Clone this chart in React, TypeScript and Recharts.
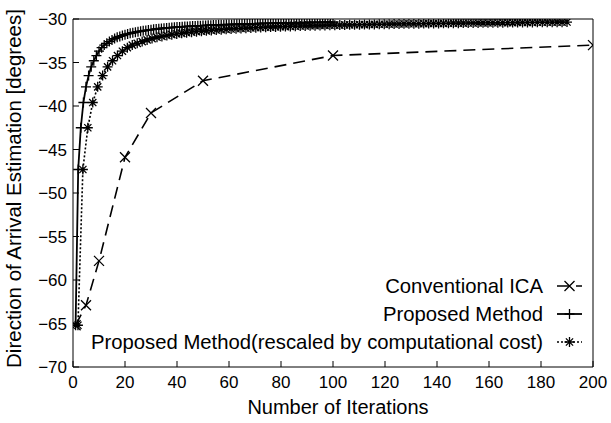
import React from 'react';
import { LineChart, Line, XAxis, YAxis, Legend } from 'recharts';

// Conventional ICA: estimated direction of arrival at selected iteration counts
const conventionalIterations = [1, 5, 10, 20, 30, 50, 100, 200];
const conventionalDoa = [-65.2, -62.9, -57.8, -45.9, -40.8, -37.1, -34.2, -33.0];

// Proposed method: estimate after each iteration (1..100)
const proposedDoa = [
  -65.2, -47.3, -42.5, -39.6, -37.8, -36.5, -35.5, -34.8, -34.2, -33.7,
  -33.3, -33.0, -32.8, -32.6, -32.4, -32.25, -32.1, -32.0, -31.9, -31.8,
  -31.72, -31.65, -31.58, -31.52, -31.46, -31.41, -31.36, -31.31, -31.27, -31.23,
  -31.19, -31.15, -31.12, -31.09, -31.06, -31.03, -31.0, -30.98, -30.95, -30.93,
  -30.91, -30.89, -30.87, -30.85, -30.83, -30.81, -30.8, -30.78, -30.77, -30.75,
  -30.74, -30.72, -30.71, -30.7, -30.68, -30.67, -30.66, -30.65, -30.64, -30.63,
  -30.62, -30.61, -30.6, -30.59, -30.58, -30.57, -30.56, -30.55, -30.55, -30.54,
  -30.53, -30.52, -30.51, -30.51, -30.5, -30.49, -30.48, -30.48, -30.47, -30.46,
  -30.46, -30.45, -30.44, -30.44, -30.43, -30.43, -30.42, -30.41, -30.41, -30.4,
  -30.4, -30.39, -30.39, -30.38, -30.38, -30.37, -30.37, -30.36, -30.36, -30.35,
];

// cost of one proposed iteration measured in conventional iterations
const costRatio = 1.9;

const seriesNames = [
  'Conventional ICA',
  'Proposed Method',
  'Proposed Method(rescaled by computational cost)',
];

const xTicks = [0, 20, 40, 60, 80, 100, 120, 140, 160, 180, 200];
const yTicks = [-70, -65, -60, -55, -50, -45, -40, -35, -30];

const conventionalData = conventionalIterations.map((x, i) => ({ x, y: conventionalDoa[i] }));
const proposedData = proposedDoa.map((y, i) => ({ x: i + 1, y }));
const rescaledData = proposedDoa.map((y, i) => ({ x: (i + 1) * costRatio, y }));

const W = 611;
const H = 423;
const FONT = '"Liberation Sans", Arial, Helvetica, sans-serif';
const INK = '#000';

type MarkProps = { cx: number; cy: number };

const CrossMark = ({ cx, cy }: MarkProps) => {
  const r = 5;
  return (
    <path
      d={`M${cx - r},${cy - r}L${cx + r},${cy + r}M${cx - r},${cy + r}L${cx + r},${cy - r}`}
      stroke={INK}
      strokeWidth={1.3}
      fill="none"
    />
  );
};

const PlusMark = ({ cx, cy }: MarkProps) => {
  const r = 5;
  return (
    <path
      d={`M${cx - r},${cy}L${cx + r},${cy}M${cx},${cy - r}L${cx},${cy + r}`}
      stroke={INK}
      strokeWidth={1.3}
      fill="none"
    />
  );
};

const StarMark = ({ cx, cy }: MarkProps) => {
  const r = 5;
  const d = 3.6;
  return (
    <path
      d={`M${cx - r},${cy}L${cx + r},${cy}M${cx},${cy - r}L${cx},${cy + r}M${cx - d},${cy - d}L${cx + d},${cy + d}M${cx - d},${cy + d}L${cx + d},${cy - d}`}
      stroke={INK}
      strokeWidth={1.3}
      fill="none"
    />
  );
};

const dotOf = (Mark: React.FC<MarkProps>) => (p: any) =>
  p.cx == null || p.cy == null ? <g key={`e-${p.index}`} /> : <Mark key={`m-${p.index}`} cx={p.cx} cy={p.cy} />;

const formatTick = (v: number) => String(v).replace('-', '\u2212');

const legendStyles = [
  { dash: '12 7', width: 1.6, Mark: CrossMark },
  { dash: undefined, width: 1.8, Mark: PlusMark },
  { dash: '2 2', width: 1.6, Mark: StarMark },
];

const KeyBox = () => {
  const rowY = [286, 314, 342];
  return (
    <svg width={W} height={H} style={{ position: 'absolute', left: 0, top: 0, pointerEvents: 'none' }}>
      {seriesNames.map((name, i) => {
        const { dash, width, Mark } = legendStyles[i];
        const y = rowY[i];
        return (
          <g key={name}>
            <text x={543} y={y + 7.2} textAnchor="end" fontFamily={FONT} fontSize={20.3} fill={INK}>
              {name}
            </text>
            <line x1={557} y1={y} x2={582} y2={y} stroke={INK} strokeWidth={width} strokeDasharray={dash} />
            <Mark cx={569.5} cy={y} />
          </g>
        );
      })}
    </svg>
  );
};

export default function App() {
  return (
    <div style={{ position: 'absolute', left: 0, top: 0, width: W, height: H, background: '#fff' }}>
      <LineChart width={W} height={H} margin={{ top: 18, right: 17, bottom: 0, left: 0 }}>
        <XAxis
          xAxisId="bottom"
          dataKey="x"
          type="number"
          domain={[0, 200]}
          ticks={xTicks}
          interval={0}
          allowDataOverflow
          height={56}
          stroke={INK}
          tickSize={-6}
          tickMargin={15}
          tick={{ fill: INK, fontSize: 17, fontFamily: FONT }}
          label={{
            content: () => (
              <text x={338} y={414} textAnchor="middle" fontFamily={FONT} fontSize={20} fill={INK}>
                Number of Iterations
              </text>
            ),
          }}
        />
        <XAxis
          xAxisId="top"
          orientation="top"
          type="number"
          domain={[0, 200]}
          ticks={xTicks}
          interval={0}
          allowDataOverflow
          height={1}
          stroke={INK}
          tick={false}
          tickSize={-6}
        />
        <YAxis
          yAxisId="left"
          type="number"
          domain={[-70, -30]}
          ticks={yTicks}
          interval={0}
          allowDataOverflow
          width={73}
          stroke={INK}
          tickSize={-6}
          tickMargin={12}
          tickFormatter={formatTick}
          tick={{ fill: INK, fontSize: 17, fontFamily: FONT }}
          label={{
            content: () => (
              <text
                x={20.5}
                y={188.5}
                transform="rotate(-90 20.5 188.5)"
                textAnchor="middle"
                fontFamily={FONT}
                fontSize={20.5}
                fill={INK}
              >
                Direction of Arrival Estimation [degrees]
              </text>
            ),
          }}
        />
        <YAxis
          yAxisId="right"
          orientation="right"
          type="number"
          domain={[-70, -30]}
          ticks={yTicks}
          interval={0}
          allowDataOverflow
          width={1}
          stroke={INK}
          tick={false}
          tickSize={-6}
        />
        <Line
          data={conventionalData}
          dataKey="y"
          name={seriesNames[0]}
          xAxisId="bottom"
          yAxisId="left"
          type="linear"
          stroke={INK}
          strokeWidth={1.6}
          strokeDasharray="12 7"
          dot={dotOf(CrossMark)}
          activeDot={false}
          isAnimationActive={false}
        />
        <Line
          data={rescaledData}
          dataKey="y"
          name={seriesNames[2]}
          xAxisId="bottom"
          yAxisId="left"
          type="linear"
          stroke={INK}
          strokeWidth={1.6}
          strokeDasharray="2 2"
          dot={dotOf(StarMark)}
          activeDot={false}
          isAnimationActive={false}
        />
        <Line
          data={proposedData}
          dataKey="y"
          name={seriesNames[1]}
          xAxisId="bottom"
          yAxisId="left"
          type="linear"
          stroke={INK}
          strokeWidth={1.8}
          dot={dotOf(PlusMark)}
          activeDot={false}
          isAnimationActive={false}
        />
        <Legend
          layout="vertical"
          align="center"
          verticalAlign="middle"
          wrapperStyle={{ left: 0, top: 0, width: W, height: H, pointerEvents: 'none' }}
          content={() => <KeyBox />}
        />
      </LineChart>
    </div>
  );
}
